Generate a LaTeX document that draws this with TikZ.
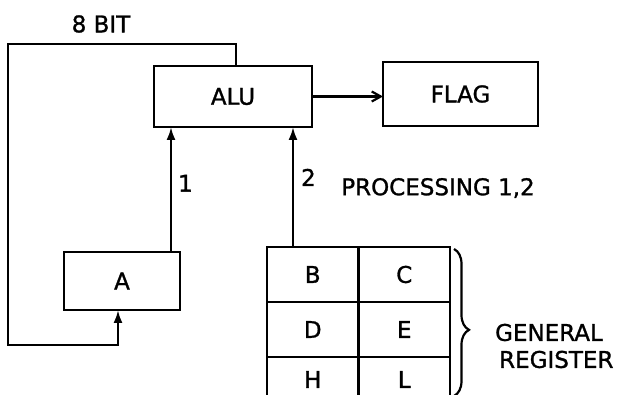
\documentclass[tikz,border=0pt]{standalone}
\usepackage{fontspec}
\setmainfont{DejaVu Sans}[FakeBold=1.2]
\usetikzlibrary{arrows.meta,positioning,decorations.pathreplacing}

\begin{document}
\begin{tikzpicture}[
  x=1pt,y=-1pt,
  line width=2.2pt,
  font=\fontsize{23}{27}\selectfont,
  block/.style={draw,rectangle,inner sep=0pt,outer sep=0pt},
  cell/.style={block,minimum width=91.5pt,minimum height=55pt},
  arrow/.style={-{Latex[length=13pt,width=9pt]}},
  flagarrow/.style={-{Straight Barb[length=9pt,width=10pt]}},
  brace/.style={decorate,decoration={brace,amplitude=15pt,aspect=0.55}},
  lbl/.style={inner sep=0pt}
]
  \useasboundingbox (0,0) rectangle (619,395);
  % blocks
  \node[block,minimum width=158pt,minimum height=61pt] (alu) at (233,96.5) {ALU};
  \node[block,minimum width=155pt,minimum height=64pt] (flag) at (460.5,94) {FLAG};
  \node[block,minimum width=116pt,minimum height=58pt] (rega) at (122,281) {A};
  % general register
  \node[cell] (b) at (312.75,274.5) {B};
  \node[cell,right=0pt of b] (c) {C};
  \node[cell,below=0pt of b] (d) {D};
  \node[cell,right=0pt of d] (e) {E};
  \node[cell,below=0pt of d,minimum height=45pt] (h) {H};
  \node[cell,right=0pt of h,minimum height=45pt] (l) {L};
  \coordinate (loopnw) at (8,44);
  \coordinate (loopsw) at (8,345);
  % connectors
  \draw[flagarrow] (alu.east) -- (alu.east -| flag.west);
  \draw[arrow] ([xshift=-9pt]rega.north east) coordinate (in1) -- (in1 |- alu.south)
    node[lbl,pos=0.55,right=6pt] {1};
  \draw[arrow] ([xshift=26pt]b.north west) coordinate (in2) -- (in2 |- alu.south)
    node[lbl,pos=0.58,right=7pt] {2};
  \draw[arrow] ([xshift=3pt]alu.north) |- (loopnw) -- (loopsw) -| ([xshift=-4pt]rega.south);
  \draw[brace] ([xshift=4pt,yshift=-2pt]c.north east) -- ([xshift=4pt,yshift=6pt]l.south east);
  % labels
  \node[lbl] (bits) at (101,24) {8 BIT};
  \node[lbl] (proc) at (438,188) {PROCESSING 1,2};
  \node[lbl,align=center] (genreg) at (549,346) {GENERAL\\\ \ REGISTER};
\end{tikzpicture}
\end{document}
